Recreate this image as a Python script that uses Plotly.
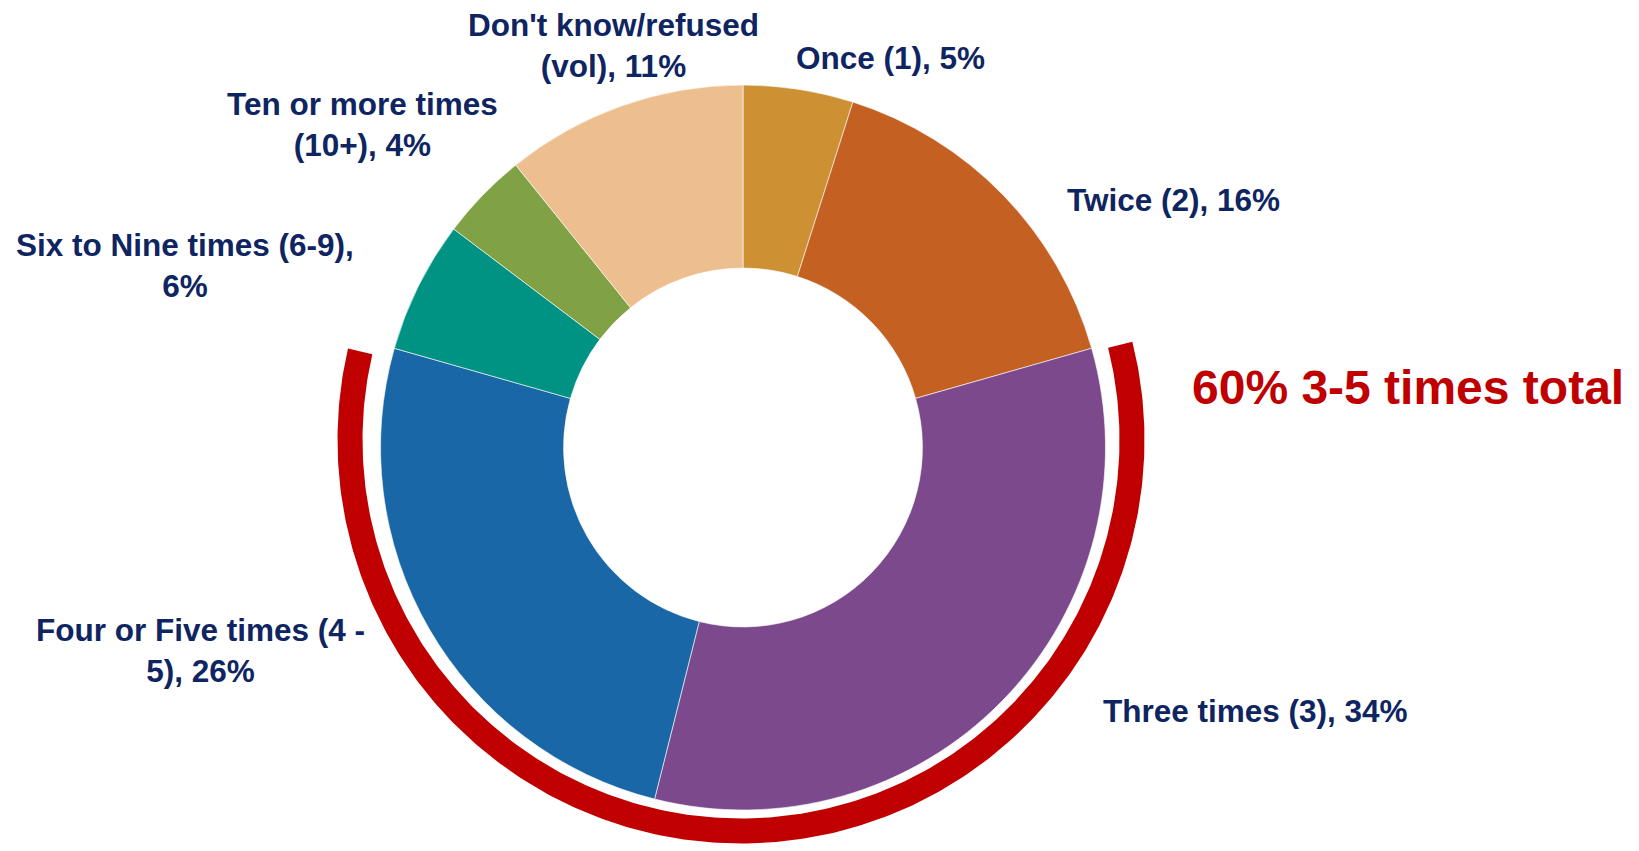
import numpy as np
import plotly.graph_objects as go

# ---- data ----
categories = ["Once (1)", "Twice (2)", "Three times (3)", "Four or Five times (4 - 5)",
              "Six to Nine times (6-9)", "Ten or more times (10+)", "Don't know/refused (vol)"]
values = [5, 16, 34, 26, 6, 4, 11]
slice_colors = ["#CD9134", "#C46022", "#7C4A8C", "#1967A6", "#009283", "#80A245", "#EDBE8E"]
label_texts = ["Once (1), 5%", "Twice (2), 16%", "Three times (3), 34%",
               "Four or Five times (4 -<br>5), 26%", "Six to Nine times (6-9),<br>6%",
               "Ten or more times<br>(10+), 4%", "Don't know/refused<br>(vol), 11%"]
highlight_text = "60% 3-5 times total"

# ---- layout geometry (page pixels) ----
W, H = 1639, 851
OFF = 8                      # page body margin in which the figure sits
cx, cy, R = 743, 447.5, 362.5
hole = 0.495
# decorative bracket ring (slightly off-centre, as in the original)
ring_cx, ring_cy = 741, 440
ring_r0, ring_r1 = 378.5, 403.5
ring_from, ring_to = 75.9, 283.1       # degrees clockwise from 12 o'clock
label_pos = [(890, 58), (1173, 200), (1255, 711), (200, 650), (185, 265), (362, 124), (613, 45)]
highlight_pos = (1408, 387)

navy = "#0E2561"
red = "#C00000"

fig = go.Figure()

fig.add_trace(go.Pie(
    labels=categories, values=values, sort=False, direction="clockwise", rotation=0,
    hole=hole, textinfo="none", hoverinfo="label+percent",
    marker=dict(colors=slice_colors, line=dict(color="rgba(255,255,255,0.6)", width=1)),
    domain=dict(x=[(cx - OFF - R) / W, (cx - OFF + R) / W],
                y=[(H - (cy - OFF) - R) / H, (H - (cy - OFF) + R) / H]),
    showlegend=False,
))

th = np.radians(np.linspace(ring_from, ring_to, 300))
xo = ring_cx + ring_r1 * np.sin(th)
yo = ring_cy - ring_r1 * np.cos(th)
xi = ring_cx + ring_r0 * np.sin(th[::-1])
yi = ring_cy - ring_r0 * np.cos(th[::-1])
fig.add_trace(go.Scatter(
    x=np.concatenate([xo, xi, xo[:1]]), y=np.concatenate([yo, yi, yo[:1]]),
    mode="lines", fill="toself", fillcolor=red, line=dict(color=red, width=0),
    hoverinfo="skip", showlegend=False,
))

for txt, (x, y) in zip(label_texts, label_pos):
    fig.add_annotation(x=x, y=y, xref="x", yref="y", text=txt, showarrow=False,
                       xanchor="center", yanchor="middle", align="center",
                       font=dict(family="Liberation Sans", size=31.5, color=navy, weight="bold"))

fig.add_annotation(x=highlight_pos[0], y=highlight_pos[1], xref="x", yref="y",
                   text=highlight_text, showarrow=False, xanchor="center", yanchor="middle",
                   font=dict(family="Liberation Sans", size=48, color=red, weight="bold"))

fig.update_layout(
    width=W, height=H, margin=dict(l=0, r=0, t=0, b=0),
    paper_bgcolor="white", plot_bgcolor="rgba(0,0,0,0)",
    xaxis=dict(range=[OFF, W + OFF], visible=False, fixedrange=True),
    yaxis=dict(range=[H + OFF, OFF], visible=False, fixedrange=True),
)

fig.write_html("out.html")
